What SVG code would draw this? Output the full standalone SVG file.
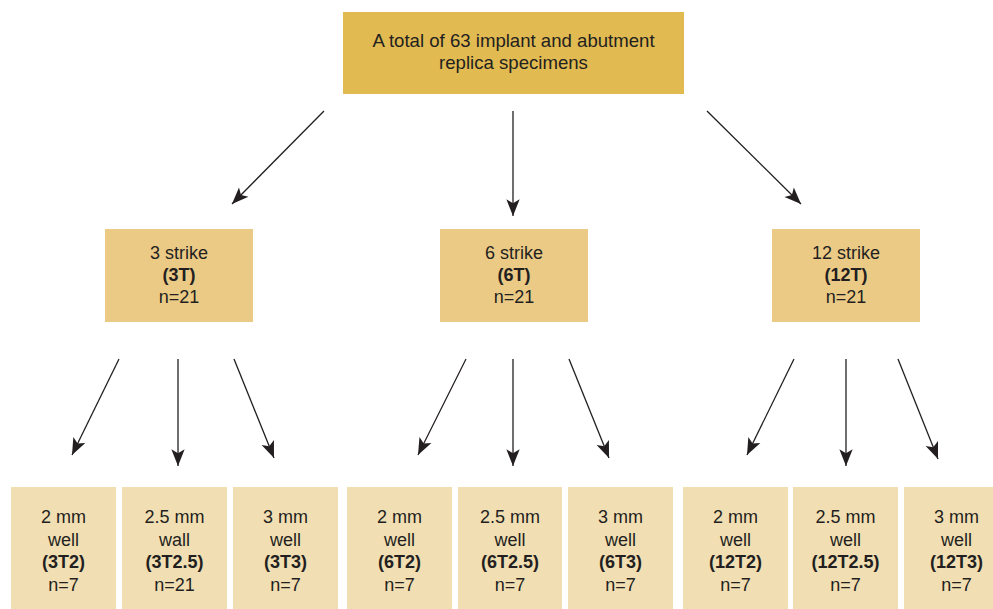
<svg xmlns="http://www.w3.org/2000/svg" width="993" height="609" viewBox="0 0 993 609">
<style>
text{font-family:"Liberation Sans",Arial,sans-serif;font-size:18px;fill:#231f20;text-anchor:middle}
.b{font-weight:bold}
.t{font-size:18.6px}
.top{fill:#e1ba52}
.mid{fill:#ebca86}
.low{fill:#f1deb3}
.c line{stroke:#231f20;stroke-width:1.3;marker-end:url(#ah)}
</style>
<defs>
<marker id="ah" markerUnits="userSpaceOnUse" markerWidth="20" markerHeight="20" viewBox="-16 -8 18 16" refX="0" refY="0" orient="auto">
<path d="M0,0 L-15,-6 L-11.5,0 L-15,6 Z" fill="#231f20"/>
</marker>
</defs>
<rect width="993" height="609" fill="#fff"/>
<g id="root">
<rect class="top" x="343" y="12" width="341" height="82"/>
<text class="t" x="513.5" y="47">A total of 63 implant and abutment</text>
<text class="t" x="513.5" y="69">replica specimens</text>
</g>
<g id="n3T">
<rect class="mid" x="105" y="229" width="148" height="93"/>
<text x="179" y="259">3 strike</text>
<text x="179" y="281" class="b">(3T)</text>
<text x="179" y="303">n=21</text>
</g>
<g id="n6T">
<rect class="mid" x="440" y="229" width="148" height="93"/>
<text x="514" y="259">6 strike</text>
<text x="514" y="281" class="b">(6T)</text>
<text x="514" y="303">n=21</text>
</g>
<g id="n12T">
<rect class="mid" x="772" y="229" width="148" height="93"/>
<text x="846" y="259">12 strike</text>
<text x="846" y="281" class="b">(12T)</text>
<text x="846" y="303">n=21</text>
</g>
<g id="n3T2">
<rect class="low" x="11" y="487" width="105" height="122"/>
<text x="63.5" y="523">2 mm</text><text x="63.5" y="546">well</text><text x="63.5" y="568" class="b">(3T2)</text><text x="63.5" y="591">n=7</text>
</g>
<g id="n3T25">
<rect class="low" x="122" y="487" width="105" height="122"/>
<text x="174.5" y="523">2.5 mm</text><text x="174.5" y="546">wall</text><text x="174.5" y="568" class="b">(3T2.5)</text><text x="174.5" y="591">n=21</text>
</g>
<g id="n3T3">
<rect class="low" x="233" y="487" width="105" height="122"/>
<text x="285.5" y="523">3 mm</text><text x="285.5" y="546">well</text><text x="285.5" y="568" class="b">(3T3)</text><text x="285.5" y="591">n=7</text>
</g>
<g id="n6T2">
<rect class="low" x="347" y="487" width="105" height="122"/>
<text x="399.5" y="523">2 mm</text><text x="399.5" y="546">well</text><text x="399.5" y="568" class="b">(6T2)</text><text x="399.5" y="591">n=7</text>
</g>
<g id="n6T25">
<rect class="low" x="458" y="487" width="104" height="122"/>
<text x="510" y="523">2.5 mm</text><text x="510" y="546">well</text><text x="510" y="568" class="b">(6T2.5)</text><text x="510" y="591">n=7</text>
</g>
<g id="n6T3">
<rect class="low" x="568" y="487" width="105" height="122"/>
<text x="620.5" y="523">3 mm</text><text x="620.5" y="546">well</text><text x="620.5" y="568" class="b">(6T3)</text><text x="620.5" y="591">n=7</text>
</g>
<g id="n12T2">
<rect class="low" x="683" y="487" width="105" height="122"/>
<text x="735.5" y="523">2 mm</text><text x="735.5" y="546">well</text><text x="735.5" y="568" class="b">(12T2)</text><text x="735.5" y="591">n=7</text>
</g>
<g id="n12T25">
<rect class="low" x="793" y="487" width="105" height="122"/>
<text x="845.5" y="523">2.5 mm</text><text x="845.5" y="546">well</text><text x="845.5" y="568" class="b">(12T2.5)</text><text x="845.5" y="591">n=7</text>
</g>
<g id="n12T3">
<rect class="low" x="904" y="487" width="105" height="122"/>
<text x="956.5" y="523">3 mm</text><text x="956.5" y="546">well</text><text x="956.5" y="568" class="b">(12T3)</text><text x="956.5" y="591">n=7</text>
</g>
<g id="connectors" class="c">
<line x1="324" y1="111" x2="232" y2="204"/>
<line x1="513" y1="111" x2="513" y2="216"/>
<line x1="707" y1="111" x2="801" y2="204"/>
<line x1="119" y1="359" x2="72" y2="455"/>
<line x1="178" y1="359" x2="178" y2="466"/>
<line x1="234" y1="359" x2="274" y2="458"/>
<line x1="466" y1="359" x2="418" y2="455"/>
<line x1="513" y1="359" x2="513" y2="466"/>
<line x1="569" y1="359" x2="609" y2="458"/>
<line x1="794" y1="359" x2="747" y2="455"/>
<line x1="846" y1="359" x2="846" y2="466"/>
<line x1="898" y1="359" x2="938" y2="459"/>
</g>
</svg>
